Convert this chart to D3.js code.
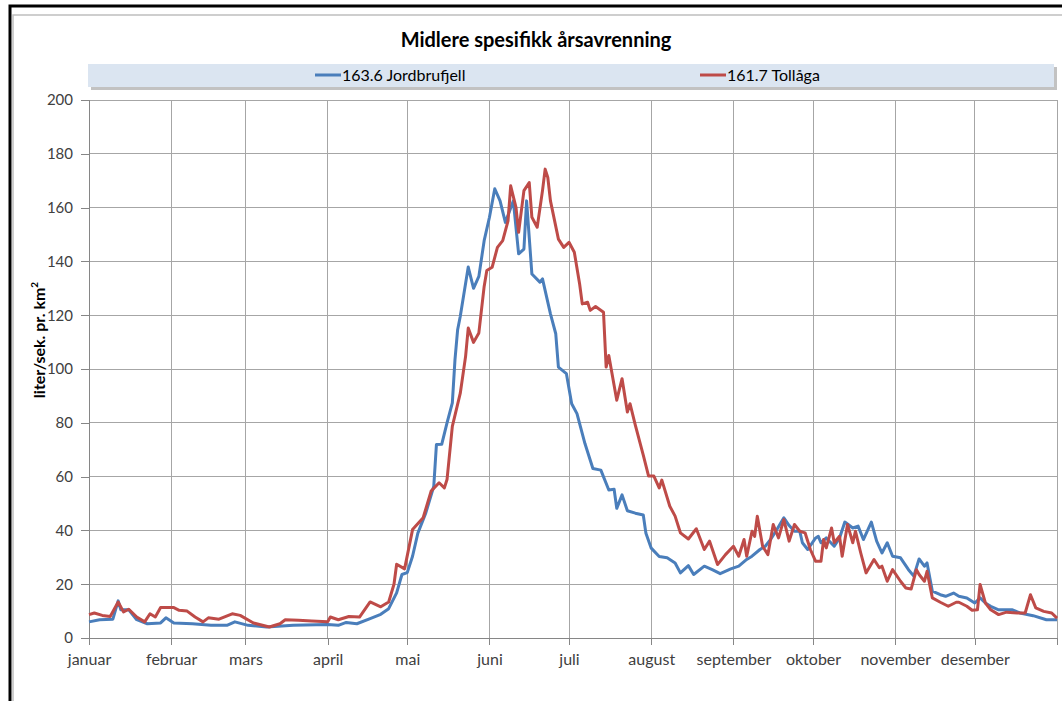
<!DOCTYPE html>
<html>
<head>
<meta charset="UTF-8" />
<title>Midlere spesifikk årsavrenning</title>
<script src="https://d3js.org/d3.v7.min.js"></script>
<style>
body { margin: 0; background: #fff; }
svg { display: block; font-family: Lato, "Open Sans", sans-serif; }
.grid line { stroke: #a6a6a6; stroke-width: 1; shape-rendering: crispEdges; }
.axis path, .axis line { stroke: #868686; shape-rendering: crispEdges; }
.axis text { fill: #404040; font-family: Lato, sans-serif; }
.xaxis text { font-size: 16px; }
.yaxis text { font-size: 15px; }
</style>
</head>
<body>
<div id="chart"></div>
<script>
// month starts (day of year) and names
var monthStarts = [0, 31, 59, 90, 120, 151, 181, 212, 243, 273, 304, 334, 365];
var monthNames = ["januar", "februar", "mars", "april", "mai", "juni", "juli",
                  "august", "september", "oktober", "november", "desember"];
var yTicks = [0, 20, 40, 60, 80, 100, 120, 140, 160, 180, 200];

// 163.6 Jordbrufjell (blue)
var blueDays = [0,4,9,11,12,15,18,22,27,29,32,39,46,52,55,60,67,77,90,94,97,101,106,110,113,116,118,120,122,124,127,130,131,133,135,137,138,139,140,143,145,147,149,151,153,155,157,160,162,164,165,167,170,171,174,176,177,180,182,184,187,190,193,196,198,199,201,203,206,209,210,212,215,218,221,223,226,228,232,235,238,242,245,248,250,253,255,257,259,262,264,266,268,269,271,274,275,276,278,281,283,285,288,290,292,295,297,299,301,303,306,309,311,313,315,316,318,321,323,326,328,331,334,336,338,340,343,348,351,356,361,365];
var blueVals = [6,6.8,7,13.8,10.5,10.5,6.8,5.3,5.6,7.5,5.6,5.3,4.7,4.7,6,4.7,4.1,4.7,5,4.7,5.8,5.3,7.2,8.8,10.9,16.8,23.6,24.3,30.4,39,46.5,56.4,71.9,72,80,87.4,103.5,114.6,119.6,137.9,130,134.4,147.7,156.4,167,162.5,154.5,162.5,142.8,144.6,162.5,135.3,132.3,133.5,120.5,113.1,100.7,98.3,87.1,83.4,72.3,63,62.4,55,55.3,48.2,53.2,47.3,46.4,45.7,38.9,33.4,30.3,29.8,27.9,24.2,26.9,23.6,26.7,25.4,23.9,25.7,26.7,29.2,30.4,32.9,34.1,36.6,39.7,44.7,41.8,39.7,39.7,35.4,32.9,37.2,37.8,35.4,37.2,34.1,37.2,43.1,40.9,41.6,36.6,43.1,36,31.6,35.4,30.4,29.8,25.4,23,29.4,26.7,27.9,17.4,16.1,15.5,16.7,15.5,14.9,13,14.9,13,11.8,10.5,10.5,9.3,8.3,6.8,6.8];

// 161.7 Tollåga (red)
var redDays = [0,2,5,8,11,13,15,18,21,23,25,27,32,34,37,40,43,45,49,54,57,62,68,72,74,79,84,90,91,94,98,102,106,110,113,115,116,119,122,126,129,132,134,135,137,140,142,143,145,147,149,150,152,154,156,158,159,161,162,164,166,167,169,171,172,173,174,177,179,181,183,185,186,188,189,191,194,195,196,199,201,203,204,206,209,211,213,215,216,219,221,223,226,229,232,234,237,240,243,245,247,248,250,251,252,254,256,258,260,262,264,266,268,270,272,274,276,277,278,280,281,283,284,286,288,289,291,293,296,298,299,301,303,306,308,310,312,313,315,316,318,321,324,327,328,331,333,335,336,338,340,343,346,350,353,355,357,360,363,365];
var redVals = [8.7,9.3,8.4,8,13.4,9.7,10.7,7.8,6,9,7.8,11.3,11.3,10.3,10,7.8,6,7.5,7,9,8.4,5.6,4.1,5.3,6.8,6.6,6.3,6,7.8,6.8,8,7.8,13.4,11.6,13.4,20,27.4,25.7,40.3,44.7,54.6,57.7,55.8,58.9,78.7,91,104.7,115.2,109.9,113.4,130.7,136.6,137.8,145.2,147.7,155.1,168.1,160.1,150.8,166.3,169.3,156.4,152.7,166.3,174.3,171.2,162.5,148.3,145.2,147.1,143.4,131.6,124.2,124.8,121.8,123.2,121.1,100.7,105,88.4,96.4,84,87.1,79.1,68,60.2,60.2,55.8,58.7,49,45.3,39.1,36.8,40.6,32.9,36,27.3,31,34.1,30.4,36.6,30.4,39.7,37.8,45.3,34.1,31,42.2,37.2,44,36,42.2,39.7,39.1,32.9,28.5,28.5,36.6,33.5,40.9,35.4,37.8,30.4,42.2,35.4,39.7,31.6,24.2,29.2,26.1,26.7,21.1,25.4,21.1,18.6,18.2,25.4,23.6,21.1,24.8,14.9,13.3,11.8,13.3,13.3,11.8,10.3,10.5,19.9,13,10.5,8.7,9.6,9.3,9.3,16.1,11.2,9.9,9.3,7.4];

var W = 1062, H = 701;
var plotLeft = 89, plotRight = 1057, plotTop = 100, plotBottom = 638;

var svg = d3.select("#chart").append("svg")
  .attr("width", W)
  .attr("height", H);

// outer frame (only top and left visible)
svg.append("path")
  .attr("d", "M10," + (H + 5) + "V6H" + (W + 5))
  .attr("fill", "none")
  .attr("stroke", "#000")
  .attr("stroke-width", 3);
svg.append("path")
  .attr("d", "M13," + (H + 5) + "V15H" + (W + 5))
  .attr("fill", "none")
  .attr("stroke", "#bfbfbf")
  .attr("stroke-width", 1.5);

var x = d3.scaleLinear().domain([0, 365]).range([plotLeft, plotRight]);
var y = d3.scaleLinear().domain([0, 200]).range([plotBottom, plotTop]);

// title
svg.append("text")
  .attr("x", 536)
  .attr("y", 47)
  .attr("text-anchor", "middle")
  .style("font-size", "20px")
  .style("font-weight", "bold")
  .style("fill", "#000")
  .text("Midlere spesifikk årsavrenning");

// legend box with shadow
svg.append("rect")
  .attr("x", 91).attr("y", 67)
  .attr("width", 966).attr("height", 23)
  .attr("fill", "#9a9a9a")
  .attr("opacity", 0.6);
svg.append("rect")
  .attr("x", 88).attr("y", 64)
  .attr("width", 966).attr("height", 23)
  .attr("fill", "#dbe5f1");

var legendItems = [
  {name: "163.6 Jordbrufjell", color: "#4a7ebb", x: 315},
  {name: "161.7 Tollåga", color: "#be4b48", x: 700}
];
var lg = svg.selectAll(".leg").data(legendItems).enter().append("g")
  .attr("class", "leg");
lg.append("line")
  .attr("x1", function(d) { return d.x; })
  .attr("x2", function(d) { return d.x + 26; })
  .attr("y1", 75).attr("y2", 75)
  .attr("stroke", function(d) { return d.color; })
  .attr("stroke-width", 3);
lg.append("text")
  .attr("x", function(d) { return d.x + 27; })
  .attr("y", 81)
  .style("font-size", "16px")
  .style("fill", "#000")
  .text(function(d) { return d.name; });

// grid
svg.append("g").attr("class", "grid")
  .selectAll("line").data(yTicks.slice(1)).enter().append("line")
  .attr("x1", plotLeft).attr("x2", plotRight)
  .attr("y1", function(d) { return y(d); })
  .attr("y2", function(d) { return y(d); });
svg.append("g").attr("class", "grid")
  .selectAll("line").data(monthStarts.slice(1)).enter().append("line")
  .attr("x1", function(d) { return x(d); })
  .attr("x2", function(d) { return x(d); })
  .attr("y1", plotTop).attr("y2", plotBottom);

// axes
svg.append("g")
  .attr("class", "axis xaxis")
  .attr("transform", "translate(0," + plotBottom + ")")
  .call(d3.axisBottom(x).tickValues(monthStarts).tickSize(7).tickPadding(9)
    .tickFormat(function(d, i) { return monthNames[i] || ""; }));

svg.append("g")
  .attr("class", "axis yaxis")
  .attr("transform", "translate(" + plotLeft + ",0)")
  .call(d3.axisLeft(y).tickValues(yTicks).tickSize(8).tickPadding(8));

// y axis title
var yt = svg.append("text")
  .attr("transform", "translate(45,340) rotate(-90)")
  .attr("text-anchor", "middle")
  .style("font-size", "16px")
  .style("font-weight", "bold")
  .style("fill", "#000");
yt.append("tspan").text("liter/sek. pr. km");
yt.append("tspan").attr("dy", -7).style("font-size", "10px").text("2");

// lines
var line = d3.line()
  .x(function(d) { return x(d[0]); })
  .y(function(d) { return y(d[1]); });

var series = [
  {days: blueDays, vals: blueVals, color: "#4a7ebb"},
  {days: redDays, vals: redVals, color: "#be4b48"}
];

svg.selectAll(".series").data(series).enter().append("path")
  .attr("class", "series")
  .attr("fill", "none")
  .attr("stroke", function(d) { return d.color; })
  .attr("stroke-width", 3)
  .attr("stroke-linejoin", "round")
  .attr("d", function(d) {
    return line(d.days.map(function(t, i) { return [t, d.vals[i]]; }));
  });
</script>
</body>
</html>
